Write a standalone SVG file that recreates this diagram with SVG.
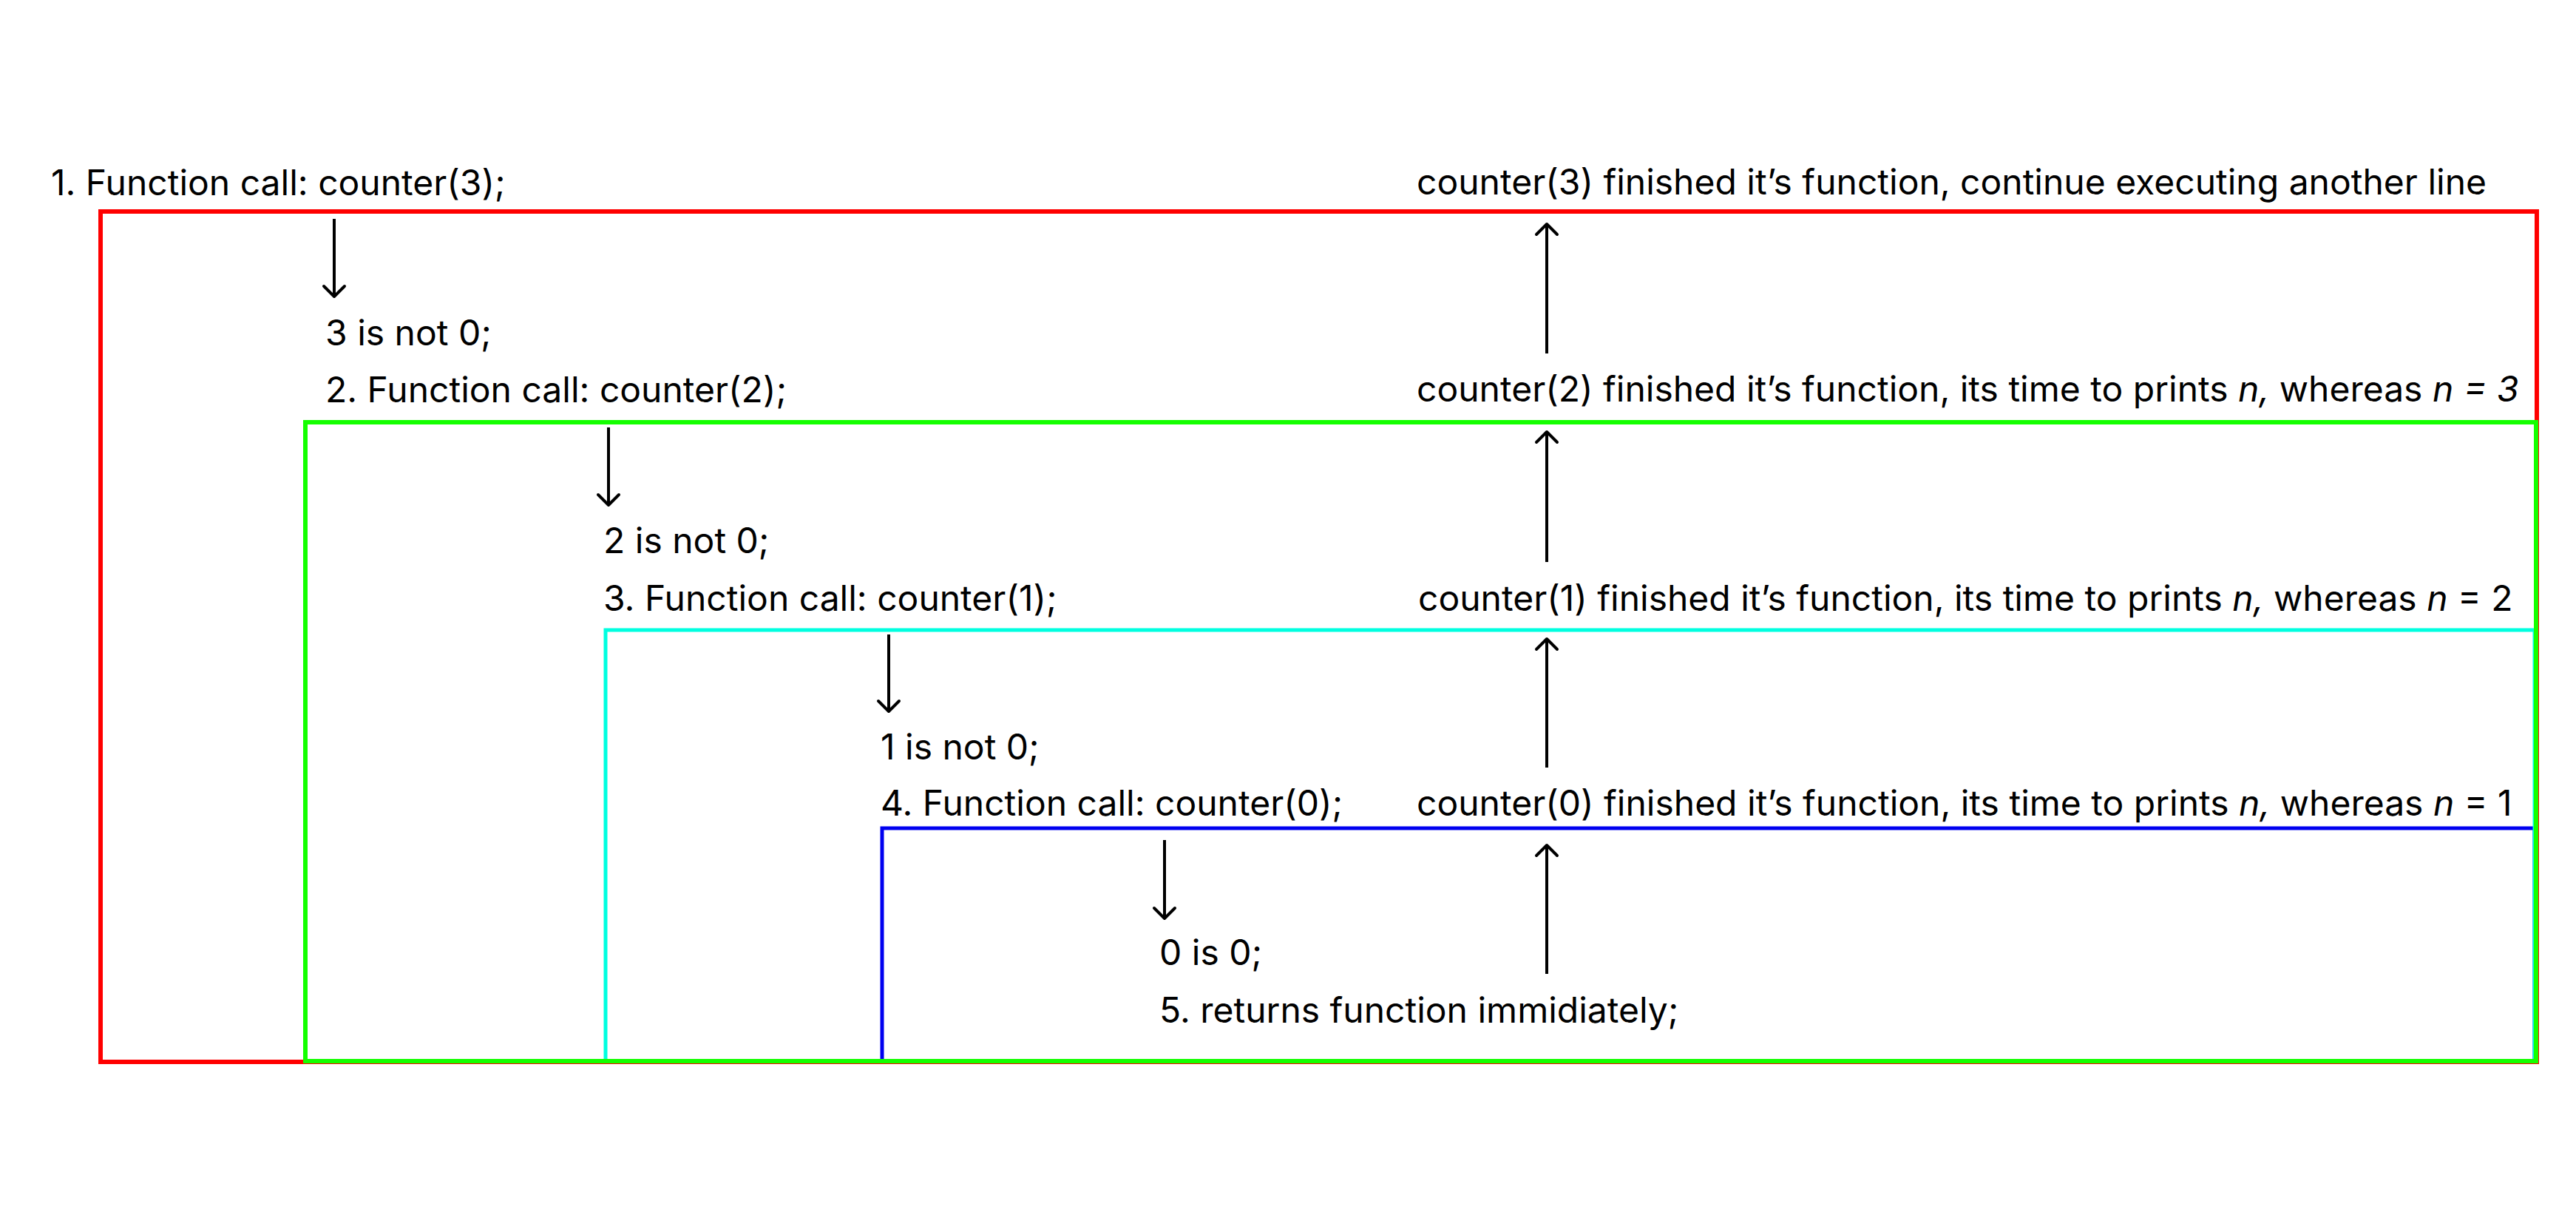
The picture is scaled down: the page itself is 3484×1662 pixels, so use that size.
<svg xmlns="http://www.w3.org/2000/svg" width="3484" height="1662" viewBox="0 0 3484 1662">
  <style>
    text { font-family: Inter, "Liberation Sans", sans-serif; font-size: 48px; fill: #000; }
    .it { font-style: italic; }
    .frame { fill: none; }
    .conn { stroke: #000; stroke-width: 4; fill: none; marker-end: url(#ah); }
  </style>
  <defs>
    <marker id="ah" markerUnits="userSpaceOnUse" viewBox="-20 -20 40 40" markerWidth="40" markerHeight="40" refX="0" refY="0" orient="auto">
      <path d="M-14,-14 L0,0 L-14,14" fill="none" stroke="#000" stroke-width="4" stroke-linecap="round" stroke-linejoin="round"/>
    </marker>
  </defs>
  <rect width="3484" height="1662" fill="#fff"/>

  <g id="frames">
    <rect id="frame-counter3" class="frame" x="136" y="286" width="3295" height="1150" stroke="#FF0000" stroke-width="6"/>
    <rect id="frame-counter0" class="frame" x="1193" y="1120" width="2235" height="315" stroke="#0000F0" stroke-width="5"/>
    <rect id="frame-counter1" class="frame" x="819" y="852" width="2609" height="583" stroke="#00FFE0" stroke-width="5"/>
    <rect id="frame-counter2" class="frame" x="413" y="571" width="3017" height="864" stroke="#14FF00" stroke-width="6"/>
  </g>

  <g id="connectors">
    <line class="conn" x1="452" y1="296" x2="452" y2="401"/>
    <line class="conn" x1="823" y1="578" x2="823" y2="683"/>
    <line class="conn" x1="1202" y1="858" x2="1202" y2="962"/>
    <line class="conn" x1="1575" y1="1136" x2="1575" y2="1242"/>
    <line class="conn" x1="2092" y1="478" x2="2092" y2="303"/>
    <line class="conn" x1="2092" y1="760" x2="2092" y2="584"/>
    <line class="conn" x1="2092" y1="1038" x2="2092" y2="864"/>
    <line class="conn" x1="2092" y1="1317" x2="2092" y2="1143"/>
  </g>

  <g id="call-3"><text x="69" y="264">1. Function call: counter(3);</text></g>
  <g id="check-3"><text x="440" y="467">3 is not 0;</text></g>
  <g id="call-2"><text x="440" y="544">2. Function call: counter(2);</text></g>
  <g id="check-2"><text x="816" y="748">2 is not 0;</text></g>
  <g id="call-1"><text x="816" y="826">3. Function call: counter(1);</text></g>
  <g id="check-1"><text x="1191" y="1027">1 is not 0;</text></g>
  <g id="call-0"><text x="1191" y="1103">4. Function call: counter(0);</text></g>
  <g id="check-0"><text x="1568" y="1305">0 is 0;</text></g>
  <g id="return-0"><text x="1568" y="1383">5. returns function immidiately;</text></g>

  <g id="finish-3"><text x="1916" y="263">counter(3) finished it’s function, continue executing another line</text></g>
  <g id="finish-2"><text x="1916" y="543">counter(2) finished it’s function, its time to prints <tspan class="it">n,</tspan> whereas <tspan class="it">n = 3</tspan></text></g>
  <g id="finish-1"><text x="1918" y="826">counter(1) finished it’s function, its time to prints <tspan class="it">n,</tspan> whereas <tspan class="it">n</tspan> = 2</text></g>
  <g id="finish-0"><text x="1916" y="1103">counter(0) finished it’s function, its time to prints <tspan class="it">n,</tspan> whereas <tspan class="it">n</tspan> = 1</text></g>
</svg>
